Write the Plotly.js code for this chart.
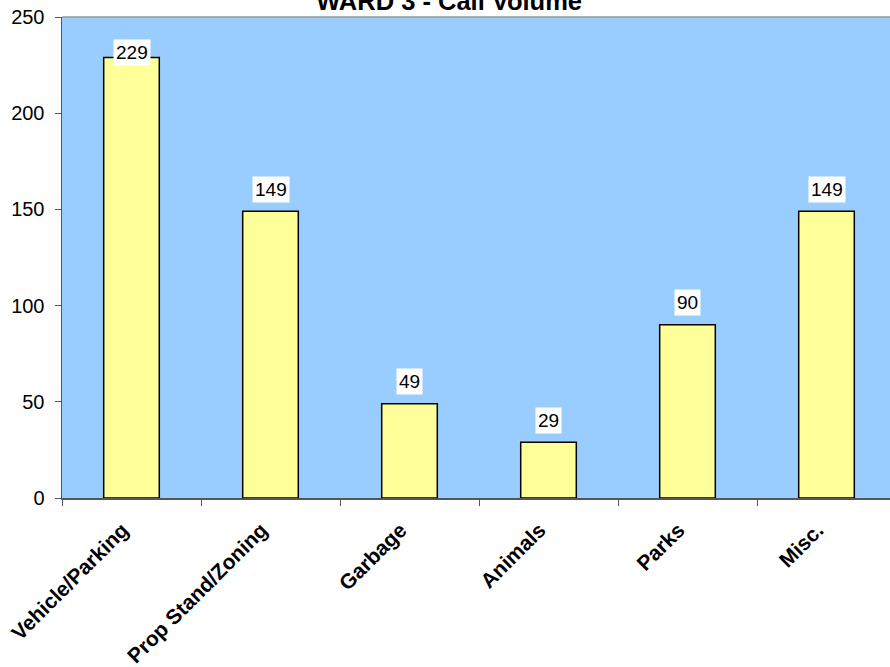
<!DOCTYPE html>
<html>
<head>
<meta charset="utf-8">
<script src="https://cdn.plot.ly/plotly-3.0.1.min.js"></script>
<style>
  html, body { margin: 0; padding: 0; overflow: hidden; background: #ffffff; }
  #chart { width: 900px; height: 667px; }
</style>
</head>
<body>
<div id="chart"></div>
<script>
// Ward 3 call volume by category
const categories = ["Vehicle/Parking", "Prop Stand/Zoning", "Garbage", "Animals", "Parks", "Misc."];
const callCounts = [229, 149, 49, 29, 90, 149];
const yTickValues = [0, 50, 100, 150, 200, 250];

const FONT = "Arial, Liberation Sans, sans-serif";

const bars = {
  type: "bar",
  x: categories,
  y: callCounts,
  width: 0.4,
  marker: { color: "#FFFF99", line: { color: "#000000", width: 1.5 } },
  hoverinfo: "x+y"
};

// value labels on white boxes above each bar, kept inside the plot top
const labels = categories.map((c, i) => ({
  x: c,
  y: Math.min(callCounts[i], 220),
  xref: "x", yref: "y",
  text: String(callCounts[i]),
  showarrow: false,
  yanchor: "middle",
  yshift: 22,
  bgcolor: "#FFFFFF",
  borderpad: 2,
  font: { family: FONT, size: 19, color: "#000000" }
}));

const layout = {
  width: 900,
  height: 667,
  margin: { l: 62, r: 4, t: 17, b: 169 },
  paper_bgcolor: "#FFFFFF",
  plot_bgcolor: "#99CCFF",
  showlegend: false,
  title: {
    text: "<b>WARD 3 - Call Volume</b>",
    font: { family: FONT, size: 25.5, color: "#000000" },
    x: 0.499, xref: "container", xanchor: "center",
    y: 0.999, yref: "container", yanchor: "middle"
  },
  xaxis: {
    type: "category",
    tickangle: -45,
    tickfont: { family: FONT, size: 21, color: "#000000", weight: "bold" },
    ticks: "outside",
    tickson: "boundaries",
    ticklen: 6,
    tickcolor: "#555555",
    ticklabelstandoff: 10,
    ticklabelshift: -9,
    showline: true,
    linecolor: "#555555",
    linewidth: 1.5,
    showgrid: false,
    zeroline: false
  },
  yaxis: {
    range: [0, 250],
    tickvals: yTickValues,
    ticktext: yTickValues.map(String),
    tickfont: { family: FONT, size: 20, color: "#000000" },
    ticks: "outside",
    ticklen: 6,
    tickcolor: "#555555",
    ticklabelstandoff: 6,
    showline: true,
    linecolor: "#555555",
    linewidth: 1.5,
    showgrid: false,
    zeroline: false
  },
  shapes: [{
    type: "line", xref: "paper", yref: "paper",
    x0: 0, x1: 1, y0: 1, y1: 1,
    line: { color: "#999999", width: 1.5 }
  }],
  annotations: labels
};

Plotly.newPlot("chart", [bars], layout, { displayModeBar: false, staticPlot: true });
</script>
</body>
</html>
